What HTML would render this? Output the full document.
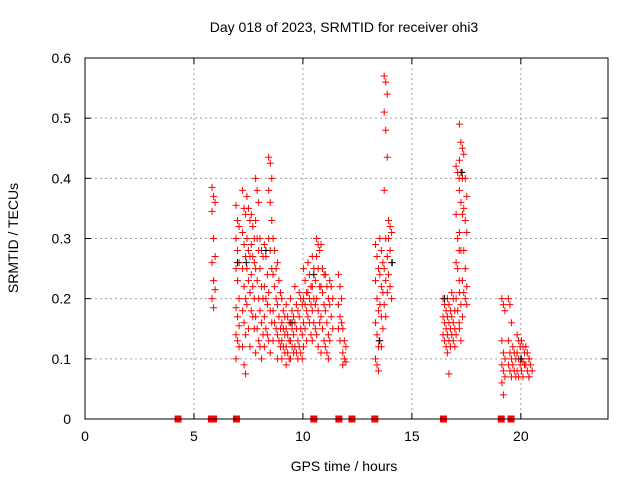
<!DOCTYPE html>
<html><head><meta charset="utf-8"><style>
body{margin:0;background:#fff}
svg{display:block;font-family:"Liberation Sans",sans-serif;font-size:14px}
</style></head><body>
<svg id="chart" width="640" height="480">
<text x="344" y="32" text-anchor="middle">Day 018 of 2023, SRMTID for receiver ohi3</text>
<text x="344" y="471" text-anchor="middle">GPS time / hours</text>
<text transform="translate(18,238) rotate(-90)" text-anchor="middle">SRMTID / TECUs</text>
<g id="grid"></g>
<g id="axes"></g>
<g id="marks"></g>
<rect x="85" y="58" width="523" height="361" fill="none" stroke="#000"/>
</svg>
<script>
const xTicks=[0,5,10,15,20];
const yTicks=[0,0.1,0.2,0.3,0.4,0.5,0.6];
const yTickLabels=["0","0.1","0.2","0.3","0.4","0.5","0.6"];
const zeroHours=[4.27,5.8,5.9,6.95,10.5,11.65,12.25,13.3,16.45,19.1,19.55];
const columnHours=[5.9,7.0,7.3,7.5,7.7,7.9,8.1,8.3,8.5,8.7,8.9,9.1,9.3,9.5,9.7,9.9,10.1,10.3,10.5,10.7,10.9,11.1,11.3,11.7,11.9,13.4,13.6,13.8,14.0,16.5,16.7,16.9,17.1,17.25,17.45,19.2,19.5,19.7,19.9,20.1,20.3,20.45];
const columnValues=[
[.385,.37,.36,.345,.30,.27,.26,.23,.215,.20,.185],
[.355,.33,.32,.30,.28,.26,.25,.23,.20,.185,.17,.155,.14,.13,.12,.10],
[.38,.35,.34,.31,.29,.27,.25,.22,.20,.18,.16,.14,.12,.09,.075],
[.37,.35,.33,.30,.28,.27,.25,.23,.21,.19,.15,.12],
[.34,.32,.30,.29,.27,.26,.24,.22,.20,.18,.17,.15],
[.40,.38,.36,.33,.30,.28,.25,.23,.20,.17,.15,.13,.11],
[.30,.28,.27,.25,.22,.20,.18,.16,.14,.12,.10],
[.29,.27,.24,.22,.20,.19,.17,.15,.14,.12],
[.435,.425,.40,.38,.36,.33,.30,.28,.25,.21,.18,.16,.13,.11],
[.30,.28,.25,.24,.22,.20,.18,.16,.15,.13],
[.26,.23,.21,.19,.17,.15,.14,.13,.12,.10],
[.20,.18,.17,.16,.15,.14,.13,.12,.11,.10],
[.19,.17,.16,.15,.14,.13,.12,.11,.10,.09],
[.20,.18,.17,.16,.15,.14,.13,.12,.11,.10],
[.22,.19,.18,.16,.15,.13,.12,.11,.10],
[.21,.20,.19,.17,.15,.14,.12,.11,.10],
[.25,.23,.21,.20,.19,.18,.16,.15,.13,.12],
[.26,.24,.22,.21,.20,.19,.17,.16,.14],
[.27,.25,.23,.22,.20,.19,.18,.16,.15,.13],
[.30,.29,.28,.27,.25,.22,.20,.18,.16,.14,.12],
[.29,.25,.24,.22,.21,.19,.17,.15,.13,.11],
[.24,.22,.20,.18,.16,.14,.12,.11,.10],
[.23,.22,.20,.19,.17,.15,.13],
[.24,.22,.20,.19,.17,.16,.15,.13],
[.15,.13,.12,.11,.10,.095,.09],
[.29,.27,.25,.23,.20,.18,.16,.14,.12,.10,.09,.08],
[.30,.28,.26,.24,.22,.21,.19,.17,.15,.13,.12],
[.57,.56,.54,.51,.48,.435,.38,.30,.27,.25,.23,.21,.19,.17],
[.33,.32,.31,.30,.28,.26,.24,.22,.20],
[.20,.19,.18,.17,.16,.15,.14,.13,.12],
[.20,.19,.18,.17,.16,.15,.14,.13,.12,.11,.075],
[.21,.20,.18,.17,.16,.15,.14,.13,.12],
[.42,.41,.40,.34,.30,.28,.26,.25,.23,.20,.18,.16,.14],
[.49,.46,.45,.43,.41,.40,.38,.36,.34,.31,.28,.23,.21,.19,.17,.15,.13],
[.44,.40,.37,.35,.33,.31,.28,.25,.22,.21,.20,.19],
[.20,.19,.18,.13,.11,.10,.09,.08,.07,.06,.04],
[.20,.19,.16,.13,.11,.10,.09,.08,.07],
[.12,.11,.10,.09,.08,.07],
[.14,.13,.12,.11,.10,.09,.08,.07],
[.13,.12,.11,.10,.095,.09,.08,.07],
[.12,.11,.10,.09,.08,.07],
[.10,.09,.08,.07]];
const blackHours=[7.0,7.4,8.3,9.5,10.5,13.5,14.1,16.5,17.3,20.0];
const blackValues=[.26,.26,.28,.16,.24,.13,.26,.20,.41,.10];

const NS="http://www.w3.org/2000/svg";
const X0=85,X1=608,Y0=419,Y1=58,XMAX=24,YMAX=0.6;
function xs(h){return X0+(h/XMAX)*(X1-X0);}
function ys(v){return Y0-(v/YMAX)*(Y0-Y1);}
function mk(tag,attrs,parent){const e=document.createElementNS(NS,tag);for(const k in attrs)e.setAttribute(k,attrs[k]);parent.appendChild(e);return e;}
const grid=document.getElementById('grid'),axes=document.getElementById('axes'),marks=document.getElementById('marks');
xTicks.forEach(t=>{
  const x=xs(t);
  if(t>0){const g=mk('line',{x1:x,x2:x,y1:Y1,y2:Y0,stroke:'#a0a0a0','stroke-dasharray':'2,3'},grid);
  
  }
  mk('line',{x1:x,x2:x,y1:Y0,y2:Y0-6,stroke:'#000'},axes);
  mk('line',{x1:x,x2:x,y1:Y1,y2:Y1+6,stroke:'#000'},axes);
  const l=mk('text',{x:x,y:Y0+22,'text-anchor':'middle'},axes);l.textContent=t;
  
  
});
yTicks.forEach((t,i)=>{
  const y=ys(t);
  if(t>0&&t<YMAX){const g=mk('line',{x1:X0,x2:X1,y1:y,y2:y,stroke:'#a0a0a0','stroke-dasharray':'2,3'},grid);
  
  }
  mk('line',{x1:X0,x2:X0+6,y1:y,y2:y,stroke:'#000'},axes);
  mk('line',{x1:X1,x2:X1-6,y1:y,y2:y,stroke:'#000'},axes);
  const l=mk('text',{x:X0-14,y:y+5,'text-anchor':'end'},axes);l.textContent=yTickLabels[i];
  
  
});
function plus(h,v,col){
  const x=xs(h),y=ys(v);
  const p=mk('path',{d:`M${x-3.5},${y}h7M${x},${y-3.5}v7`,stroke:col,'stroke-width':1,fill:'none'},marks);
  
  
}
columnHours.forEach((h,c)=>{
  columnValues[c].forEach((v,i)=>plus(h+((i%3)-1)*0.07,v,'#ff0000'));
});
blackHours.forEach((h,i)=>plus(h,blackValues[i],'#000000'));
zeroHours.forEach(h=>{
  const x=xs(h),y=ys(0);
  const r=mk('rect',{x:x-3.5,y:y-3.5,width:7,height:7,fill:'#ff0000'},marks);
  
  
});
</script>
</body></html>
